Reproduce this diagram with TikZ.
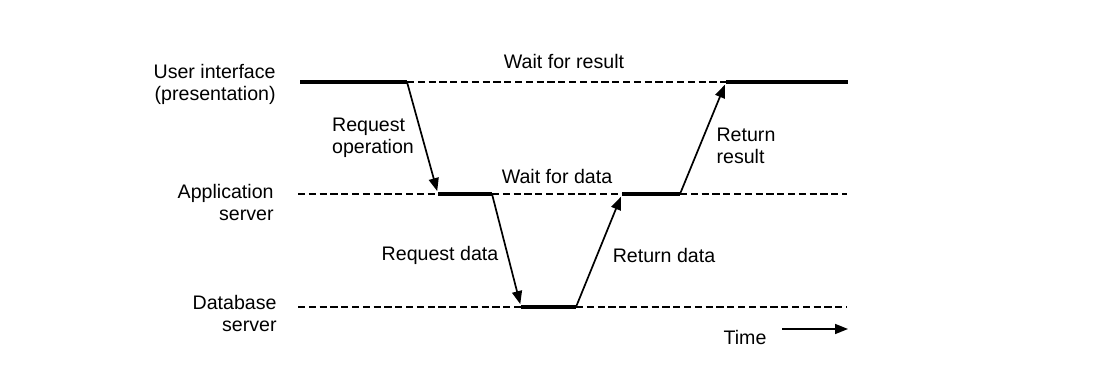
\documentclass[tikz,border=0pt]{standalone}
\usepackage{fontspec}
\setmainfont{Liberation Sans}
\usetikzlibrary{arrows.meta,positioning}

\begin{document}
\begin{tikzpicture}[x=0.5pt, y=-0.5pt,
  font=\fontsize{9.8}{11}\selectfont,
  busy/.style={line width=2pt},
  idle/.style={line width=0.75pt, dash pattern=on 3.6pt off 1.8pt},
  msg/.style={-{Triangle[length=6.5pt,width=5pt]}, line width=0.85pt, shorten >=1.5pt},
  tier/.style={align=right, anchor=east, inner sep=0pt},
  lbl/.style={align=left, inner sep=0pt}]
  \useasboundingbox (0,0) rectangle (1114,378);
  % tiers
  \node[tier] (ui) at (276,84) {User interface\\(presentation)};
  \node[tier] (app) at (274,203) {Application\\server};
  \node[tier] (db) at (277,313) {Database\\server};
  % time marks on each tier
  \coordinate (u0) at (300,82);  \coordinate (u1) at (407,82);
  \coordinate (u2) at (726,82);  \coordinate (u3) at (848,82);
  \coordinate (a0) at (298,194); \coordinate (a1) at (438,194);
  \coordinate (a2) at (492,194); \coordinate (a3) at (622,194);
  \coordinate (a4) at (680,194); \coordinate (a5) at (847,194);
  \coordinate (d0) at (298,307); \coordinate (d1) at (521,307);
  \coordinate (d2) at (576,307); \coordinate (d3) at (847,307);
  \draw[busy] (u0) -- (u1); \draw[idle] (u1) -- (u2); \draw[busy] (u2) -- (u3);
  \draw[idle] (a0) -- (a1); \draw[busy] (a1) -- (a2); \draw[idle] (a2) -- (a3);
  \draw[busy] (a3) -- (a4); \draw[idle] (a4) -- (a5);
  \draw[idle] (d0) -- (d1); \draw[busy] (d1) -- (d2); \draw[idle] (d2) -- (d3);
  % calls and returns
  \draw[msg] (u1) -- (a1);
  \draw[msg] (a2) -- (d1);
  \draw[msg] (d2) -- (a3);
  \draw[msg] (a4) -- (u2);
  \node[lbl] (reqop) at (373,138) {Request\\operation};
  \node[lbl] (reqdata) at (440,255) {Request data};
  \node[lbl] (retdata) at (664,255) {Return data};
  \node[lbl] (retres) at (746,146) {Return\\result};
  \node[lbl] (waitres) at (564,62) {Wait for result};
  \node[lbl] (waitdata) at (557,177) {Wait for data};
  % time axis
  \node[lbl] (time) at (745,337) {Time};
  \coordinate (t0) at (782,329); \coordinate (t1) at (848,329);
  \draw[msg, shorten >=0pt] (t0) -- (t1);
\end{tikzpicture}
\end{document}
